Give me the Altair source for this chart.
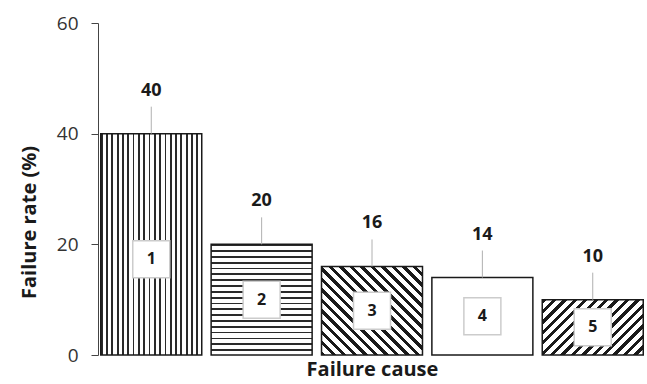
import altair as alt
import pandas as pd

# Failure causes and their share of all failures (%)
causes = ["1", "2", "3", "4", "5"]
rates = [40, 20, 16, 14, 10]

df = pd.DataFrame({"cause": causes, "rate": rates})

FONT = "Open Sans"
INK = "#1a1a1a"

PLOT_W, PLOT_H = 548, 332
Y_MAX = 60
PAD_INNER, PAD_OUTER = 0.085, 0.025
STEP = PLOT_W / (len(causes) - PAD_INNER + 2 * PAD_OUTER)
BAR_W = STEP * (1 - PAD_INNER)
PX_PER_UNIT = PLOT_H / Y_MAX


def stripes(x1, y1, x2, y2, n, dark, color="#1a1a1a"):
    """Hard-stop linear gradient that paints n evenly spaced stripes."""
    stops = []
    for i in range(n):
        a, b, c = i / n, (i + dark) / n, (i + 1) / n
        stops += [
            {"offset": a, "color": color},
            {"offset": b, "color": color},
            {"offset": b, "color": "#ffffff"},
            {"offset": c, "color": "#ffffff"},
        ]
    return {"gradient": "linear", "x1": x1, "y1": y1, "x2": x2, "y2": y2, "stops": stops}


def diagonal(value, n, dark, rising):
    """45-degree stripes for a bar of the given value."""
    k = (value * PX_PER_UNIT) / BAR_W
    s = (1 + k) / (1 + k * k)
    if rising:  # "/" stripes
        return stripes(0, 0, s, k * s, n, dark)
    return stripes(0, 1, s, 1 - k * s, n, dark)  # "\" stripes


fills = [
    stripes(0, 0, 1, 0, 19, 0.34, "#2a2a2a"),   # vertical lines
    stripes(0, 0, 0, 1, 19, 0.30, "#2a2a2a"),   # horizontal lines
    diagonal(rates[2], 18, 0.42, rising=False),
    "#ffffff",
    diagonal(rates[4], 15, 0.42, rising=True),
]

x_enc = alt.X(
    "cause:N",
    sort=causes,
    scale=alt.Scale(paddingInner=PAD_INNER, paddingOuter=PAD_OUTER),
    axis=alt.Axis(
        title="Failure cause",
        labels=False,
        ticks=False,
        domain=False,
        titleFont=FONT,
        titleFontSize=20,
        titleFontWeight="bold",
        titleColor=INK,
        titlePadding=4,
    ),
)

y_axis = alt.Axis(
    title="Failure rate (%)",
    values=[0, 20, 40, 60],
    grid=False,
    domainColor="#444444",
    domainWidth=1,
    tickColor="#444444",
    tickSize=7,
    labelPadding=13,
    labelFont=FONT,
    labelFontSize=19,
    labelColor="#333333",
    titleFont=FONT,
    titleFontSize=20,
    titleFontWeight="bold",
    titleColor=INK,
    titleAngle=-90,
    titleX=-69,
    titleY=199,
    titleBaseline="middle",
    titleAlign="center",
)
y_scale = alt.Scale(domain=[0, Y_MAX], nice=False)


def y_of(field):
    return alt.Y(f"{field}:Q", scale=y_scale, axis=y_axis)


base = alt.Chart(df)

bars = [
    base.transform_filter(alt.datum.cause == c)
    .mark_bar(fill=f, stroke=INK, strokeWidth=1.5)
    .encode(x=x_enc, y=y_of("rate"))
    for c, f in zip(causes, fills)
]

leaders = base.mark_rule(color="#b0b0b0", strokeWidth=1, y2Offset=-27).encode(
    x=x_enc, y=y_of("rate"), y2=alt.Y2("rate:Q")
)

values = base.mark_text(
    dy=-43, font=FONT, fontSize=18, fontWeight="bold", color=INK
).encode(x=x_enc, y=y_of("rate"), text=alt.Text("rate:Q"))

# numbered tag inside each bar, kept in the lower part of tall bars
tagged = base.transform_calculate(tag_y="min(datum.rate / 2, 17.3)")

tags = tagged.mark_square(
    size=1369, filled=True, fill="#ffffff", stroke="#cccccc", strokeWidth=1.5, opacity=1
).encode(x=x_enc, y=y_of("tag_y"))

tag_text = tagged.mark_text(
    font=FONT, fontSize=16, fontWeight="bold", color=INK
).encode(x=x_enc, y=y_of("tag_y"), text=alt.Text("cause:N"))

chart = (
    alt.layer(*bars, leaders, values, tags, tag_text)
    .properties(
        width=PLOT_W,
        height=PLOT_H,
        padding={"left": 98, "top": 23, "right": 1, "bottom": 29},
        autosize=alt.AutoSizeParams(type="none"),
        background="#ffffff",
    )
    .configure_view(stroke=None)
)

chart.save("out.html", embed_options={"renderer": "svg", "actions": False})
